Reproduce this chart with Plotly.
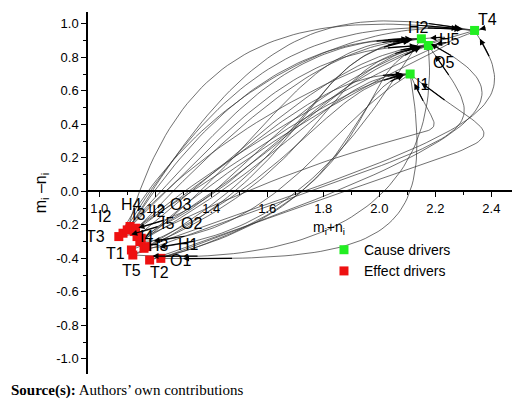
import numpy as np
import plotly.graph_objects as go

# node values (mi+ni, mi-ni)
cause_labels = ["T4", "H2", "H5", "I1"]
cause_x = [2.34, 2.15, 2.175, 2.11]
cause_y = [0.96, 0.91, 0.87, 0.70]

effect_labels = ["T3", "O5", "I2", "H4", "I3", "I5", "O2", "I4", "O3", "H3", "H1", "T1", "T5", "T2", "O1"]
effect_x = [1.07, 1.085, 1.10, 1.11, 1.125, 1.135, 1.15, 1.145, 1.13, 1.16, 1.17, 1.115, 1.12, 1.18, 1.22]
effect_y = [-0.27, -0.25, -0.23, -0.21, -0.24, -0.27, -0.28, -0.30, -0.22, -0.34, -0.33, -0.35, -0.38, -0.41, -0.40]

# text label positions as drawn in the picture
label_text = ["O5", "I2", "H4", "I3", "I2", "O3", "I5", "O2", "T3", "I4", "H3", "H1", "T1", "O1", "T5", "T2",
              "T4", "H2", "H5", "O5", "I1"]
label_x = [0.95, 1.02, 1.117, 1.14, 1.21, 1.29, 1.245, 1.33, 0.986, 1.17, 1.21, 1.32, 1.057, 1.29, 1.117, 1.216,
           2.385, 2.14, 2.25, 2.23, 2.155]
label_y = [-0.15, -0.15, -0.08, -0.14, -0.12, -0.08, -0.19, -0.19, -0.267, -0.267, -0.326, -0.32, -0.368, -0.415, -0.475, -0.487,
           1.027, 0.98, 0.908, 0.77, 0.64]

# influence curves: (source, target, control offsets)
edges = [
    ("T3", "T4", 0.30, 0.90, -0.40, 0.10), ("O5", "T4", 0.40, 1.10, -0.50, 0.08),
    ("I2", "T4", 0.20, 1.20, -0.60, 0.12), ("H4", "H2", 0.35, 0.90, -0.35, 0.02),
    ("I3", "H2", 0.45, 0.80, -0.30, -0.02), ("I5", "H5", 0.50, 0.70, -0.30, -0.04),
    ("O2", "H5", 0.60, 0.60, -0.25, -0.05), ("I4", "I1", 0.55, 0.50, -0.25, 0.02),
    ("O3", "I1", 0.50, 0.55, -0.20, -0.03), ("H3", "H2", 0.65, 0.60, -0.40, -0.05),
    ("H1", "H5", 0.70, 0.50, -0.40, -0.08), ("T1", "I1", 0.60, 0.40, -0.30, -0.05),
    ("T5", "H2", 0.70, 0.55, -0.45, -0.08), ("T2", "I1", 0.80, 0.30, -0.25, -0.06),
    ("O1", "H5", 0.85, 0.40, -0.30, -0.10), ("T3", "H2", 0.40, 0.70, -0.50, 0.02),
    ("I2", "H5", 0.45, 0.75, -0.45, 0.00), ("H4", "T4", 0.45, 1.25, -0.50, 0.15),
    ("I3", "I1", 0.50, 0.60, -0.30, 0.02), ("T1", "H2", 0.55, 0.70, -0.45, 0.00),
    ("O5", "H2", 0.60, 1.10, 0.35, 0.05), ("I4", "H5", 0.70, 1.00, 0.30, 0.10),
    ("O3", "T4", 0.80, 1.05, 0.20, 0.08), ("T2", "H2", 1.40, 0.80, 0.35, -0.30),
    ("O1", "I1", 1.40, 0.90, 0.40, -0.55), ("H1", "T4", 1.20, 0.70, 0.20, -0.50),
    ("T5", "H5", 1.30, 0.80, 0.25, -0.60), ("O2", "I1", 1.20, 0.95, 0.15, -0.60),
    ("I1", "O1", 0.10, -1.00, 0.80, -0.02), ("H5", "T5", 0.05, -0.90, 0.70, -0.08),
    ("H2", "H3", -0.20, -0.50, 0.55, 0.05), ("T4", "T3", -0.80, -0.35, 0.45, 0.10),
    ("I1", "I4", -0.30, -0.30, 0.50, 0.02), ("H5", "I2", -0.50, -0.30, 0.40, 0.10),
]

pos = {}
for n, x, y in zip(cause_labels, cause_x, cause_y):
    pos[n] = (x, y)
for n, x, y in zip(effect_labels, effect_x, effect_y):
    pos[n] = (x, y)

fig = go.Figure()
t = np.linspace(0, 1, 60)
arrows = []
for s, d, a1, b1, a2, b2 in edges:
    p0 = np.array(pos[s]); p3 = np.array(pos[d])
    p1 = p0 + [a1, b1]; p2 = p3 + [a2, b2]
    pts = ((1 - t)[:, None] ** 3 * p0 + 3 * ((1 - t) ** 2 * t)[:, None] * p1
           + 3 * ((1 - t) * t ** 2)[:, None] * p2 + (t ** 3)[:, None] * p3)
    fig.add_trace(go.Scatter(x=pts[:, 0], y=pts[:, 1], mode="lines",
                             line=dict(color="#333333", width=0.7), showlegend=False, hoverinfo="skip"))
    arrows.append(dict(x=pts[-3, 0], y=pts[-3, 1], ax=pts[-8, 0], ay=pts[-8, 1],
                       xref="x", yref="y", axref="x", ayref="y", text="", showarrow=True,
                       arrowhead=2, arrowsize=1, arrowwidth=1.2, arrowcolor="black"))

fig.add_trace(go.Scatter(x=cause_x, y=cause_y, mode="markers", name="Cause drivers",
                         marker=dict(symbol="square", size=9, color="#22ee22")))
fig.add_trace(go.Scatter(x=effect_x, y=effect_y, mode="markers", name="Effect drivers",
                         marker=dict(symbol="square", size=9, color="#ee1111")))

labels = [dict(x=x, y=y, text=s, showarrow=False, xref="x", yref="y",
               font=dict(size=16, color="black", family="Arial"))
          for s, x, y in zip(label_text, label_x, label_y)]

fig.update_layout(
    width=520, height=402, margin=dict(l=80, r=3, t=4, b=36),
    plot_bgcolor="white", paper_bgcolor="white",
    font=dict(family="Arial", size=13, color="black"),
    xaxis=dict(range=[0.96, 2.52], tickvals=[1.0, 1.2, 1.4, 1.6, 1.8, 2.0, 2.2, 2.4],
               ticktext=["1.0", "1.2", "1.4", "1.6", "1.8", "2.0", "2.2", "2.4"],
               anchor="free", position=1.09 / 2.16, showline=True, linecolor="black", linewidth=1.5,
               ticks="outside", ticklen=5, tickcolor="black", showgrid=False, zeroline=False,
               automargin=False,
               minor=dict(ticks="outside", ticklen=3, dtick=0.1, tickcolor="black")),
    yaxis=dict(range=[-1.09, 1.07], tickvals=[-1.0, -0.8, -0.6, -0.4, -0.2, 0.0, 0.2, 0.4, 0.6, 0.8, 1.0],
               ticktext=["-1.0", "-0.8", "-0.6", "-0.4", "-0.2", "0.0", "0.2", "0.4", "0.6", "0.8", "1.0"],
               showline=True, linecolor="black", linewidth=1.5, ticks="outside", ticklen=5,
               tickcolor="black", showgrid=False, zeroline=False, automargin=False,
               title=dict(text="m<sub>i</sub> \u2013n<sub>i</sub>", standoff=6),
               minor=dict(ticks="outside", ticklen=3, dtick=0.1, tickcolor="black")),
    legend=dict(x=0.54, y=0.24, bgcolor="rgba(0,0,0,0)", font=dict(size=14)),
    annotations=arrows + labels + [
        dict(x=1.82, y=-0.22, xref="x", yref="y", text="m<sub>i</sub>+n<sub>i</sub>", showarrow=False,
             font=dict(size=14)),
        dict(x=-0.18, y=-0.075, xref="paper", yref="paper", xanchor="left", showarrow=False,
             text="<b>Source(s):</b> Authors\u2019 own contributions",
             font=dict(family="Liberation Serif", size=15)),
    ],
)

fig.write_html("out.html")
